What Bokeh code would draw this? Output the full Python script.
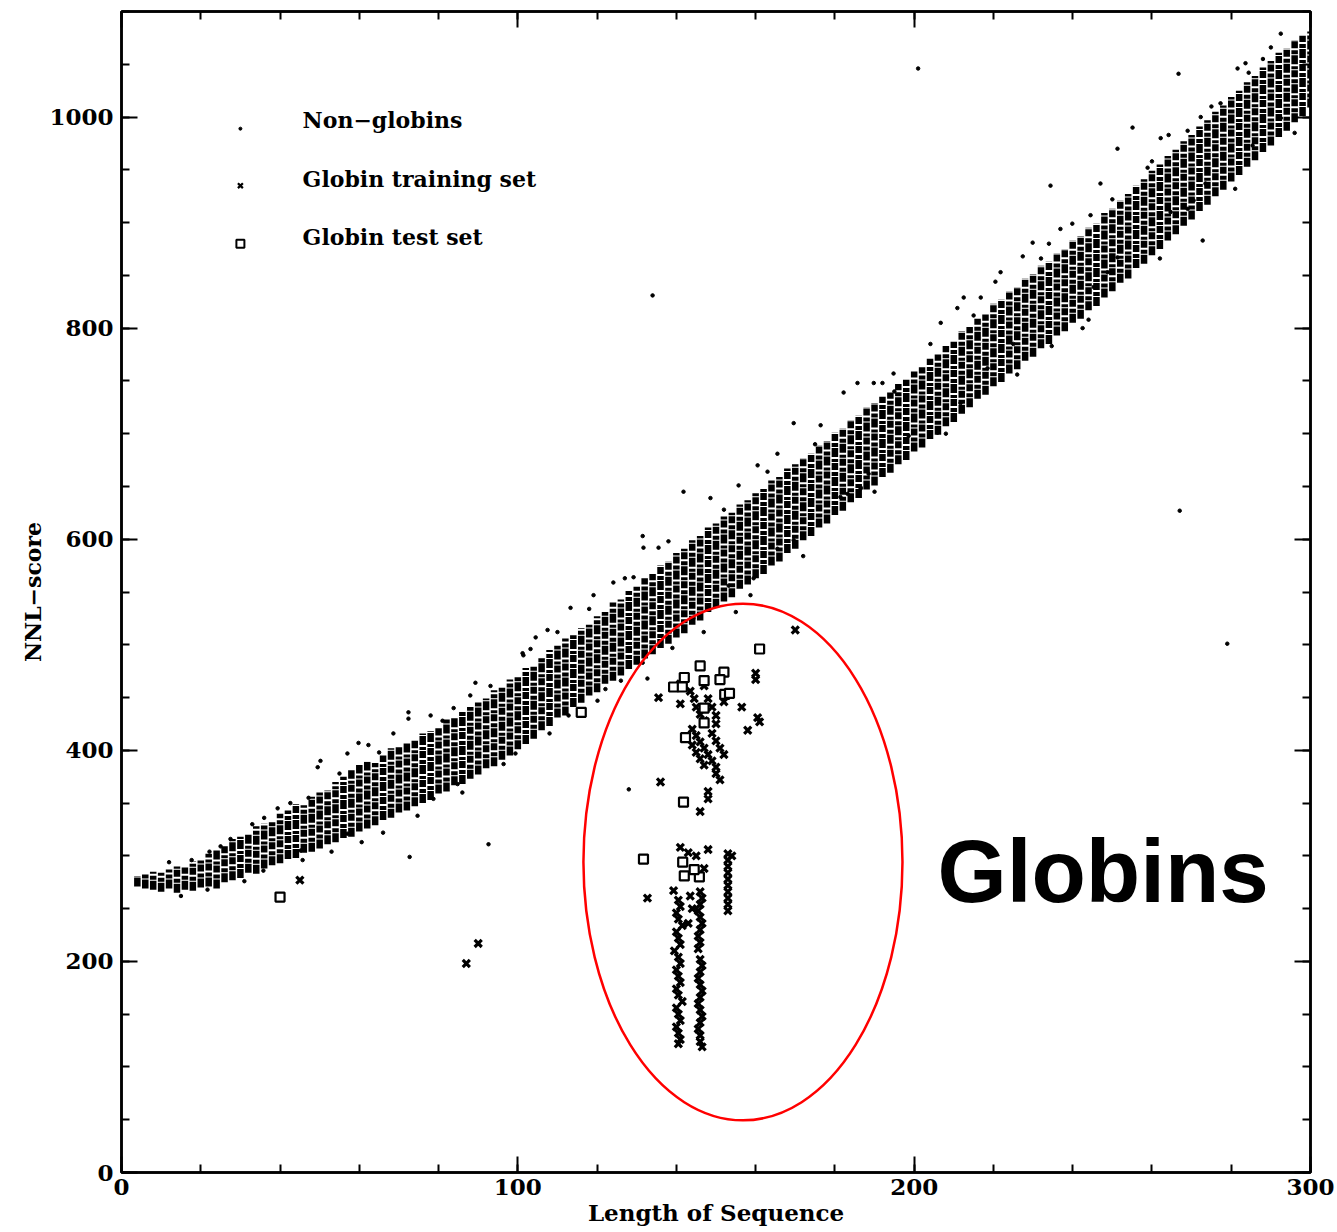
from bokeh.plotting import figure
from bokeh.models import Range1d, LinearAxis, SingleIntervalTicker, Label, CustomLabelingPolicy
from bokeh.core.properties import value
from bokeh.embed import file_html
from bokeh.resources import INLINE

# ---------------- data ----------------
# Non-globins: dense band, per sequence length the low / high score of the bulk
BAND_LEN = list(range(4, 301, 2))
BAND_LOW = [271, 269, 268, 266, 269, 265, 268, 267, 270, 271, 269, 275, 277, 279, 284, 283, 288, 291, 293, 297,
            298, 303, 304, 307, 311, 313, 317, 318, 323, 326, 329, 334, 336, 341, 343, 347, 350, 353, 359, 361,
            367, 368, 373, 377, 383, 385, 391, 395, 401, 406, 411, 419, 423, 431, 433, 441, 445, 452, 455, 463,
            466, 471, 477, 481, 487, 491, 497, 501, 507, 511, 519, 523, 531, 535, 541, 545, 553, 557, 563, 567,
            575, 579, 587, 591, 599, 603, 611, 615, 623, 627, 635, 639, 647, 651, 659, 663, 671, 675, 683, 687,
            695, 699, 707, 711, 719, 725, 733, 737, 745, 749, 757, 761, 769, 773, 781, 785, 793, 797, 805, 809,
            817, 821, 829, 835, 843, 847, 857, 861, 869, 875, 883, 889, 897, 903, 911, 917, 925, 931, 939, 945,
            953, 959, 967, 973, 981, 987, 995, 1001, 1009]
BAND_HIGH = [281, 283, 285, 284, 287, 290, 289, 295, 297, 302, 305, 309, 316, 318, 321, 328, 331, 333, 340, 343,
             349, 348, 356, 360, 362, 370, 375, 381, 386, 389, 388, 395, 402, 403, 407, 409, 416, 418, 421, 430,
             431, 437, 441, 447, 449, 457, 461, 467, 471, 478, 481, 489, 495, 499, 506, 509, 516, 519, 527, 531,
             540, 543, 551, 555, 563, 567, 575, 579, 587, 591, 599, 603, 611, 615, 622, 625, 633, 637, 645, 649,
             657, 659, 667, 671, 677, 681, 689, 693, 701, 705, 713, 717, 725, 729, 735, 739, 747, 751, 759, 763,
             771, 775, 783, 787, 797, 801, 809, 813, 823, 827, 835, 839, 847, 851, 859, 863, 871, 875, 883, 887,
             895, 899, 909, 913, 921, 927, 935, 941, 949, 955, 963, 969, 977, 983, 991, 997, 1005, 1011, 1019, 1025,
             1033, 1039, 1047, 1053, 1061, 1065, 1073, 1077, 1081]

# Non-globins: scattered individual points around the band and outliers
NG_LEN = [50.2, 49.5, 59.8, 62.3, 72.4, 72.4, 78, 89.3, 93.1, 101.4, 103.2, 83.8, 81, 68.6, 57, 42.6, 39.4, 36,
          27.5, 22.2, 17.7, 47.2, 21.7, 35.8, 45.7, 60.6, 72.7, 92.6, 74.7, 78.7, 84.8, 96.4, 99.4, 102, 57, 52,
          45.2, 141.8, 148.6, 131.5, 135.5, 131.7, 129.2, 124.1, 119.1, 113.3, 107.5, 104.5, 101.2, 160.5, 165.5,
          155.7, 169.6, 176.4, 158.7, 153.2, 159.5, 165.5, 169.6, 181.4, 186.5, 188.5, 146.9, 132.7, 131.5, 120.1,
          112.8, 122.1, 144.3, 182.2, 185.7, 189.8, 192, 194.8, 204.1, 206.7, 210.9, 212.5, 216.8, 220.5, 221.8,
          227.4, 229.9, 234, 236.9, 239.9, 244.5, 211.7, 205.9, 198.6, 186.5, 183.2, 218.5, 225, 229.9, 242.5,
          234.7, 245.3, 248.8, 251.3, 266.7, 255.1, 262.2, 264.2, 281.6, 283.6, 284.4, 290, 292.5, 251.3, 247,
          258.9, 269, 272.3, 277.3, 272.8, 273.5, 269, 285.4, 292.5, 278.1, 270.5, 264.7, 201, 134, 279, 267,
          234.4, 128,
          12, 25, 33, 55, 65, 88, 110, 118, 127, 138, 152, 163, 175, 195, 215, 232, 250, 260, 275, 288,
          15, 31, 53, 66, 86, 108, 126, 139, 155, 172, 190, 208, 226, 244, 262, 281, 296]
NG_SCORE = [390, 384, 407, 405, 436, 430, 433, 464, 461, 490, 496, 440, 428, 416, 397, 350, 345, 336,
            316, 304, 296, 355, 268, 286, 296, 313, 299, 311, 338, 354, 368, 387, 397, 409, 321, 315,
            305, 645, 639, 603, 592, 592, 564, 559, 547, 535, 514, 507, 492, 670, 681,
            651, 710, 708, 547, 556, 563, 591, 599, 640, 648, 662, 512, 468, 483, 447,
            433, 458, 525, 739, 748, 748, 748, 757, 785, 805, 819, 829, 829, 844, 853,
            868, 881, 880, 894, 899, 907, 729, 701, 698, 649, 643, 762, 785, 804, 800,
            783, 839, 853, 867, 1041, 990, 980, 983, 1046, 1051, 1042, 1066, 1079, 970, 937,
            952, 987, 1000, 1013, 883, 937, 913, 973, 999, 961, 921, 910, 1046, 831, 501, 627,
            935, 363,
            294, 309, 330, 378, 398, 452, 512, 534, 563, 598, 628, 664, 690, 740, 812, 866, 922, 958, 1010, 1055,
            262, 276, 304, 322, 360, 416, 466, 497, 531, 584, 645, 700, 756, 808, 866, 932, 985]

# Globin training set
TRAIN_LEN = [45, 87, 90, 170,
             135.5, 141, 160, 160, 156.5, 161, 158, 160.5,
             143.5, 144.5, 145, 146, 147, 148, 149, 150, 150,
             144, 145, 146, 147, 148, 144, 145, 146, 147,
             149, 150, 151, 152, 149, 150, 150, 151,
             136, 148, 148, 146, 152, 147, 141,
             141, 143, 148, 153, 154,
             153, 153, 153, 153, 153, 153, 153, 153, 153,
             139.3, 132.7, 143.5, 144, 143, 145, 147,
             140.5, 141, 140, 140.5, 141.5, 140, 140.5, 141, 139.5, 140.5, 141, 140, 140.5, 141,
             140, 140.5, 141.5, 140, 140.5, 141, 140, 140.5, 141, 140.5,
             146, 146.5, 146, 145.5, 146, 146.5, 146, 145.5, 146, 145.5,
             146, 146.5, 146, 145.5, 146, 146.5, 146, 145.5, 146, 146.5, 146, 145.5, 146, 146, 146.5]
TRAIN_SCORE = [277, 198, 217, 514,
               450, 444, 473, 467, 441, 427, 419, 431,
               456, 449, 441, 434, 428, 449, 441, 433, 425,
               420, 414, 408, 402, 396, 405, 398, 392, 386,
               416, 409, 402, 396, 390, 384, 378, 372,
               370, 361, 354, 342, 446, 461, 463,
               308, 303, 306, 302, 300,
               296, 290, 284, 278, 272, 266, 260, 254, 248,
               267, 260, 262, 250, 236, 300, 288,
               258, 252, 246, 240, 234, 228, 222, 216, 210, 204, 198, 192, 186, 180,
               174, 168, 162, 156, 150, 144, 138, 132, 126, 122,
               266, 260, 254, 248, 242, 236, 230, 224, 218, 212,
               202, 196, 190, 184, 178, 172, 166, 160, 154, 148, 142, 136, 130, 124, 119]

# Globin test set
TEST_LEN = [40, 116, 161, 146, 142, 139.3, 141.5, 147, 152, 151, 152.2, 153.4, 147, 147, 142.3,
            141.8, 131.7, 141.6, 145.8, 142, 144.5]
TEST_SCORE = [261, 436, 496, 480, 469, 460, 460, 466, 474, 467, 453, 454, 440, 426, 412,
              351, 297, 294, 280, 281, 287]

LEGEND_LABELS = ["Non\u2212globins", "Globin training set", "Globin test set"]

# ---------------- figure ----------------
SERIF = "DejaVu Serif"

p = figure(width=1337, height=1232, output_backend="svg", toolbar_location=None,
           x_range=Range1d(0, 300), y_range=Range1d(0, 1100),
           min_border_left=121, min_border_right=27, min_border_top=11, min_border_bottom=60)
p.xgrid.visible = False
p.ygrid.visible = False
p.outline_line_color = "black"
p.outline_line_width = 2.5
p.background_fill_color = "white"
p.border_fill_color = "white"

bottom = p.below[0]
left = p.left[0]
bottom.ticker = SingleIntervalTicker(interval=100, num_minor_ticks=5)
left.ticker = SingleIntervalTicker(interval=200, num_minor_ticks=4)
bottom.axis_label = "Length of Sequence"
left.axis_label = "NNL\u2212score"

no_labels = CustomLabelingPolicy(code="""
    for (const i of indices) { indices.unset(i) }
    return indices
""")
top = LinearAxis(ticker=SingleIntervalTicker(interval=100, num_minor_ticks=5),
                 major_label_policy=no_labels, major_label_standoff=0,
                 major_label_text_font_size="1px")
right = LinearAxis(ticker=SingleIntervalTicker(interval=200, num_minor_ticks=4),
                   major_label_policy=no_labels, major_label_standoff=0,
                   major_label_text_font_size="1px")
p.add_layout(top, "above")
p.add_layout(right, "right")

for ax in (bottom, left, top, right):
    ax.major_tick_in = 16
    ax.major_tick_out = 0
    ax.minor_tick_in = 8
    ax.minor_tick_out = 0
    ax.major_tick_line_width = 2
    ax.minor_tick_line_width = 2
    ax.axis_line_width = 2.5
    ax.major_label_text_font = SERIF
    ax.major_label_text_font_style = "bold"
    ax.major_label_text_color = "black"
    ax.axis_label_text_font = SERIF
    ax.axis_label_text_font_style = "bold"
    ax.axis_label_text_color = "black"

bottom.major_label_text_font_size = "23px"
left.major_label_text_font_size = "23px"
bottom.major_label_standoff = 6
left.major_label_standoff = 8
bottom.axis_label_text_font_size = "23px"
left.axis_label_text_font_size = "22px"
bottom.axis_label_standoff = 1
left.axis_label_standoff = 0

# non-globins
p.segment(x0=BAND_LEN, y0=BAND_LOW, x1=BAND_LEN, y1=BAND_HIGH,
          line_color="black", line_width=6.5, line_dash="9 1 4 2 7 1 3 2")
p.scatter(NG_LEN, NG_SCORE, marker="circle", size=3.5, color="black")

# globins
p.scatter(TRAIN_LEN, TRAIN_SCORE, marker="x", size=10, line_color="black", line_width=3.2)
p.scatter(TEST_LEN, TEST_SCORE, marker="square", size=9, fill_color="white",
          line_color="black", line_width=2.2)

# legend (hand-placed, as in the original figure)
p.scatter([30], [989], marker="circle", size=3, color="black")
p.scatter([30], [935], marker="x", size=7, line_color="black", line_width=2.2)
p.scatter([30], [880], marker="square", size=8, fill_color="white", line_color="black", line_width=2)
p.text(x=[45.7, 45.7, 45.7], y=[997, 941, 886], text=LEGEND_LABELS,
       text_font=value(SERIF), text_font_style="bold", text_font_size="22px",
       text_baseline="alphabetic", text_align="left", text_color="black")

# highlight ellipse and annotation
p.ellipse(x=156.8, y=294.2, width=80.5, height=489.8, fill_color=None,
          line_color="red", line_width=2.5)
p.add_layout(Label(x=205.9, y=286, text="Globins", text_font="Liberation Sans",
                   text_font_style="bold", text_font_size="89px", text_color="black",
                   text_baseline="alphabetic"))

open("out.html", "w").write(file_html(p, INLINE))
